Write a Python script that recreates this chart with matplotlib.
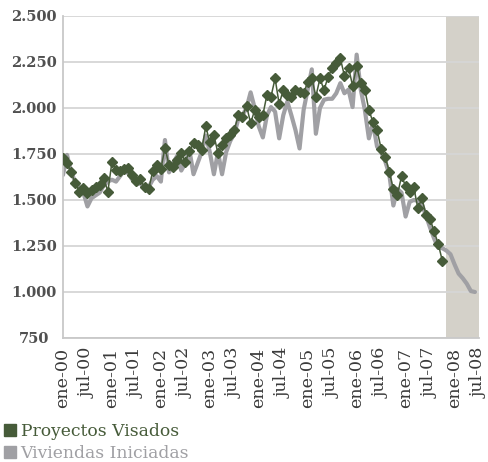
import matplotlib.pyplot as plt
from matplotlib.lines import Line2D
from matplotlib.ticker import FuncFormatter

meses = ['ene', 'feb', 'mar', 'abr', 'may', 'jun', 'jul', 'ago', 'sep', 'oct', 'nov', 'dic']
fechas = [m + '-0' + str(a) for a in range(9) for m in meses][:103]  # ene-00 .. jul-08

# miles, media movil
visados = [1727, 1700, 1650, 1592, 1545, 1565, 1538, 1554, 1572, 1581, 1620, 1545,
           1706, 1663, 1659, 1667, 1672, 1636, 1605, 1612, 1568, 1558, 1656, 1690,
           1668, 1784, 1690, 1681, 1717, 1753, 1708, 1765, 1808, 1799, 1772, 1900,
           1813, 1853, 1753, 1799, 1835, 1853, 1880, 1962, 1953, 2013, 1917, 1989,
           1953, 1962, 2071, 2062, 2161, 2021, 2098, 2071, 2058, 2098, 2089, 2080,
           2143, 2161, 2062, 2161, 2098, 2170, 2216, 2243, 2270, 2175, 2220, 2122,
           2226, 2138, 2100, 1989, 1923, 1880, 1779, 1735, 1654, 1558, 1527, 1630,
           1576, 1545, 1570, 1455, 1509, 1420, 1395, 1330, 1261, 1170]

iniciadas = [1636, 1745, 1650, 1600, 1570, 1540, 1465, 1510, 1525, 1540, 1580, 1600,
             1610, 1600, 1630, 1660, 1645, 1610, 1585, 1590, 1560, 1570, 1610, 1630,
             1600, 1826, 1650, 1700, 1740, 1660, 1700, 1770, 1640, 1700, 1760, 1850,
             1760, 1640, 1760, 1640, 1760, 1820, 1860, 1940, 1960, 2000, 2085, 2000,
             1900, 1840, 1960, 2005, 1980, 1835, 1960, 2035, 1960, 1880, 1780, 1990,
             2100, 2210, 1860, 2000, 2045, 2050, 2050, 2080, 2135, 2080, 2100, 2005,
             2290, 2100, 1990, 1835, 1920, 1790, 1760, 1710, 1640, 1470, 1560, 1540,
             1410, 1490, 1500, 1495, 1475, 1415, 1350, 1290, 1240, 1238, 1225, 1205,
             1150, 1100, 1075, 1045, 1005, 1000]

inicio_sombra = 'nov-07'

verde = '#465b39'
gris = '#a0a0a4'

fig = plt.figure(figsize=(4.89, 4.62), dpi=100)
ax = fig.add_axes([0.1288, 0.2684, 0.8508, 0.697])

i0 = fechas.index(inicio_sombra)
ax.fill_between([i0, len(fechas) - 1], 750, 2500, color='#d4d1c9', lw=0, zorder=0.2)

ax.plot(range(len(iniciadas)), iniciadas, color=gris, lw=3.0, solid_capstyle='round', zorder=2)
ax.plot(range(len(visados)), visados, color=verde, lw=1.1, marker='D', ms=5.0, zorder=3)

ax.set_xlim(0, len(fechas) - 1)
ax.set_ylim(750, 2500)
ax.set_yticks(range(750, 2501, 250))
ax.yaxis.set_major_formatter(FuncFormatter(lambda v, p: f'{v:,.0f}'.replace(',', '.')))
ax.set_xticks(range(0, len(fechas), 6))
ax.set_xticklabels(fechas[::6], rotation=90, fontsize=12.6, family='DejaVu Serif', color='#3a3a3a')
for t in ax.get_yticklabels():
    t.set_ha('center')
    t.set_family('DejaVu Serif')
    t.set_fontsize(10.5)
    t.set_fontweight('bold')
    t.set_color('#505050')
ax.tick_params(axis='y', length=0, pad=21)
ax.tick_params(axis='x', length=0, pad=7)

ax.grid(axis='y', color='#d6d6d6', lw=1.3)
ax.set_axisbelow(True)
for s in ['top', 'right']:
    ax.spines[s].set_visible(False)
for s in ['left', 'bottom']:
    ax.spines[s].set_color('#c8c8c8')
    ax.spines[s].set_linewidth(1.3)

h = [Line2D([], [], ls='none', marker='s', ms=9, color=verde),
     Line2D([], [], ls='none', marker='s', ms=9, color=gris)]
fig.legend(h, ['Proyectos Visados', 'Viviendas Iniciadas'], loc='upper left',
           bbox_to_anchor=(-0.012, 0.103), frameon=False, handlelength=0.8,
           handletextpad=0.25, labelspacing=0.3, borderpad=0,
           labelcolor=[verde, gris], prop={'family': 'DejaVu Serif', 'size': 12.3})

fig.savefig('out.png', dpi=100)
